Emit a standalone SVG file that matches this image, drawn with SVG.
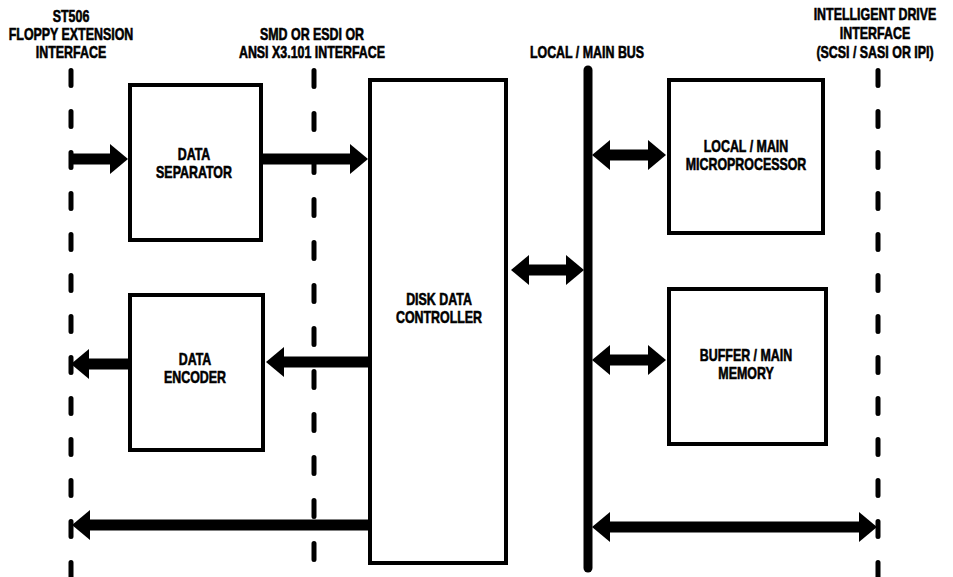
<svg xmlns="http://www.w3.org/2000/svg" width="953" height="577" viewBox="0 0 953 577">
<style>
.bg{fill:#fff}
.lbl{font-family:"Liberation Sans",Arial,sans-serif;font-weight:bold;font-size:17px;fill:#000;stroke:#000;stroke-width:0.6;text-anchor:middle}
.box{fill:none;stroke:#000;stroke-width:4}
.iface{stroke:#000;stroke-width:5;stroke-linecap:round;fill:none}
.bus{stroke:#000;stroke-width:9;stroke-linecap:round;fill:none}
.arr{stroke:#000;stroke-width:11;fill:none}
.one{marker-end:url(#head)}
.two{marker-start:url(#head);marker-end:url(#head)}
</style>
<defs>
<marker id="head" viewBox="0 -15 18 30" markerWidth="18" markerHeight="30" refX="1" refY="0" orient="auto-start-reverse" markerUnits="userSpaceOnUse">
<path d="M0,-15 L18,0 L0,15 Z" fill="#000"/>
</marker>
</defs>
<rect class="bg" x="0" y="0" width="953" height="577"/>

<g id="interfaces">
<line class="iface" x1="71" y1="70.5" x2="71" y2="577" stroke-dasharray="15 26"/>
<line class="iface" x1="314" y1="70.5" x2="314" y2="577" stroke-dasharray="16 27"/>
<line class="iface" x1="878" y1="70.5" x2="878" y2="577" stroke-dasharray="15 26"/>
</g>

<g id="labels">
<text class="lbl" transform="translate(71,22) scale(0.73,1)">ST506</text>
<text class="lbl" transform="translate(71,40) scale(0.73,1)">FLOPPY EXTENSION</text>
<text class="lbl" transform="translate(71,58) scale(0.73,1)">INTERFACE</text>
<text class="lbl" transform="translate(312,40) scale(0.73,1)">SMD OR ESDI OR</text>
<text class="lbl" transform="translate(312,58) scale(0.73,1)">ANSI X3.101 INTERFACE</text>
<text class="lbl" transform="translate(587,58) scale(0.73,1)">LOCAL / MAIN BUS</text>
<text class="lbl" transform="translate(875,20) scale(0.73,1)">INTELLIGENT DRIVE</text>
<text class="lbl" transform="translate(875,39) scale(0.73,1)">INTERFACE</text>
<text class="lbl" transform="translate(875,58) scale(0.73,1)">(SCSI / SASI OR IPI)</text>
</g>

<g id="bus">
<line class="bus" x1="588" y1="70" x2="588" y2="568"/>
</g>

<g id="data-separator">
<rect class="box" x="130" y="85" width="131" height="155"/>
<text class="lbl" transform="translate(194,160) scale(0.73,1)">DATA</text>
<text class="lbl" transform="translate(194,178) scale(0.73,1)">SEPARATOR</text>
</g>

<g id="data-encoder">
<rect class="box" x="130" y="295" width="133" height="155"/>
<text class="lbl" transform="translate(195,365) scale(0.73,1)">DATA</text>
<text class="lbl" transform="translate(195,383) scale(0.73,1)">ENCODER</text>
</g>

<g id="disk-data-controller">
<rect class="box" x="370" y="80" width="136" height="483"/>
<text class="lbl" transform="translate(439,305) scale(0.73,1)">DISK DATA</text>
<text class="lbl" transform="translate(439,323) scale(0.73,1)">CONTROLLER</text>
</g>

<g id="microprocessor">
<rect class="box" x="669" y="80" width="154" height="153"/>
<text class="lbl" transform="translate(746,152) scale(0.73,1)">LOCAL / MAIN</text>
<text class="lbl" transform="translate(746,170) scale(0.73,1)">MICROPROCESSOR</text>
</g>

<g id="memory">
<rect class="box" x="669" y="289" width="157" height="155"/>
<text class="lbl" transform="translate(746,361) scale(0.73,1)">BUFFER / MAIN</text>
<text class="lbl" transform="translate(746,379) scale(0.73,1)">MEMORY</text>
</g>

<g id="connectors">
<line class="arr one" x1="71" y1="159" x2="111" y2="159"/>
<line class="arr one" x1="263" y1="159" x2="351" y2="159"/>
<line class="arr one" x1="370" y1="362" x2="283" y2="362"/>
<line class="arr one" x1="130" y1="364" x2="88" y2="364"/>
<line class="arr two" x1="528" y1="270" x2="567" y2="270"/>
<line class="arr two" x1="609" y1="155" x2="649" y2="155"/>
<line class="arr two" x1="609" y1="360" x2="649" y2="360"/>
<line class="arr one" x1="370" y1="525" x2="89" y2="525"/>
<line class="arr two" x1="609" y1="527" x2="860" y2="527"/>
</g>
</svg>
